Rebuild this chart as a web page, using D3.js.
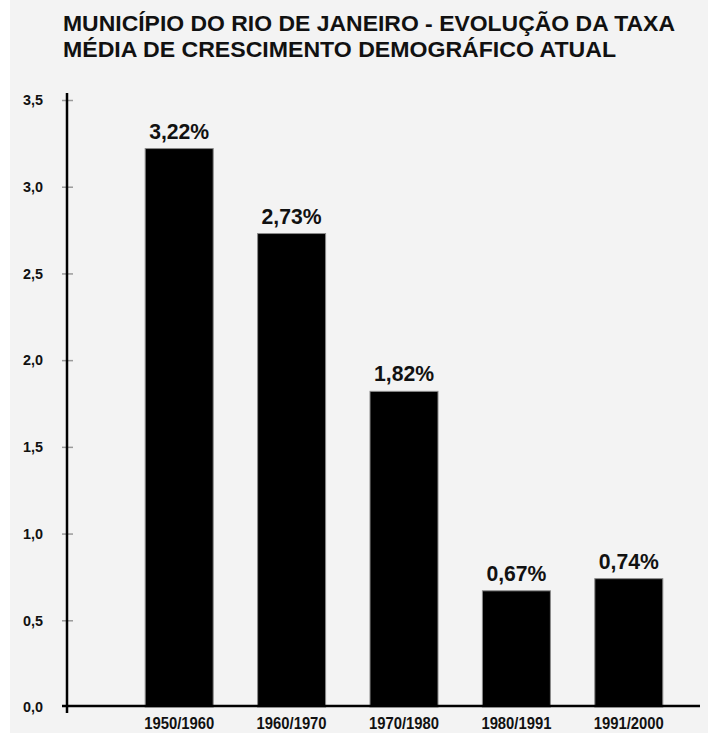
<!DOCTYPE html>
<html>
<head>
<meta charset="utf-8">
<script src="https://cdn.jsdelivr.net/npm/d3@7"></script>
<style>
  html, body { margin: 0; padding: 0; background: #ffffff; }
  svg { display: block; }
  text { font-family: "Liberation Sans", Arial, sans-serif; font-weight: bold; fill: #111; }
</style>
</head>
<body>
<svg id="chart" width="713" height="733"></svg>
<script>
const titleLines = [
  "MUNICÍPIO DO RIO DE JANEIRO - EVOLUÇÃO DA TAXA",
  "MÉDIA DE CRESCIMENTO DEMOGRÁFICO ATUAL"
];
const categories = ["1950/1960", "1960/1970", "1970/1980", "1980/1991", "1991/2000"];
const values = [3.22, 2.73, 1.82, 0.67, 0.74];
const valueLabels = ["3,22%", "2,73%", "1,82%", "0,67%", "0,74%"];
const yTicks = [0, 0.5, 1.0, 1.5, 2.0, 2.5, 3.0, 3.5];
const yTickLabels = ["0,0", "0,5", "1,0", "1,5", "2,0", "2,5", "3,0", "3,5"];

const svg = d3.select("#chart");

svg.append("rect")
  .attr("x", 10).attr("y", 0).attr("width", 698).attr("height", 733)
  .attr("fill", "#f3f3f3");

// Title
const titleWidths = [612, 553];
svg.selectAll("text.title")
  .data(titleLines)
  .enter().append("text")
  .attr("class", "title")
  .attr("x", 63)
  .attr("y", (d, i) => 31 + i * 26)
  .attr("font-size", 22)
  .attr("textLength", (d, i) => titleWidths[i])
  .attr("lengthAdjust", "spacingAndGlyphs")
  .text(d => d);

const x = d3.scaleBand()
  .domain(categories)
  .range([123, 685])
  .paddingInner(0.395)
  .paddingOuter(0.1975);

const y = d3.scaleLinear()
  .domain([0, 3.5])
  .range([707, 100]);

// Bars
svg.selectAll("rect.bar")
  .data(values)
  .enter().append("rect")
  .attr("class", "bar")
  .attr("x", (d, i) => x(categories[i]))
  .attr("y", d => y(d))
  .attr("width", x.bandwidth())
  .attr("height", d => y(0) - y(d))
  .attr("fill", "#000")
  .attr("stroke", "#8a8a8a")
  .attr("stroke-width", 1);

// Value labels
svg.selectAll("text.vlabel")
  .data(values)
  .enter().append("text")
  .attr("class", "vlabel")
  .attr("x", (d, i) => x(categories[i]) + x.bandwidth() / 2)
  .attr("y", d => y(d) - 10)
  .attr("text-anchor", "middle")
  .attr("font-size", 22)
  .attr("textLength", 60)
  .attr("lengthAdjust", "spacingAndGlyphs")
  .text((d, i) => valueLabels[i]);

// Y axis
const yAxis = d3.axisLeft(y)
  .tickValues(yTicks)
  .tickFormat((d, i) => yTickLabels[i])
  .tickSize(0);
const gy = svg.append("g").attr("transform", "translate(67,0)").call(yAxis);
gy.select(".domain").remove();
gy.selectAll(".tick line")
  .attr("x1", -5).attr("x2", 6)
  .attr("stroke", "#9a9a9a").attr("stroke-width", 1.5);
gy.selectAll(".tick text")
  .attr("x", -24)
  .attr("font-size", 15)
  .attr("textLength", 20)
  .attr("lengthAdjust", "spacingAndGlyphs")
  .attr("font-family", "Liberation Sans, Arial, sans-serif")
  .attr("font-weight", "bold")
  .attr("fill", "#111");
gy.selectAll(".tick").filter(d => d === 0).select("line").remove();

svg.append("line")
  .attr("x1", 67).attr("x2", 67)
  .attr("y1", 93).attr("y2", 713)
  .attr("stroke", "#000").attr("stroke-width", 2.5);

// X axis
const xAxis = d3.axisBottom(x).tickSize(0).tickPadding(12);
const gx = svg.append("g").attr("transform", "translate(0,706)").call(xAxis);
gx.select(".domain").remove();
gx.selectAll(".tick text")
  .attr("font-size", 16)
  .attr("textLength", 70)
  .attr("lengthAdjust", "spacingAndGlyphs")
  .attr("font-family", "Liberation Sans, Arial, sans-serif")
  .attr("font-weight", "bold")
  .attr("fill", "#111");

svg.append("line")
  .attr("x1", 62).attr("x2", 700)
  .attr("y1", 706).attr("y2", 706)
  .attr("stroke", "#000").attr("stroke-width", 2.5);
</script>
</body>
</html>
